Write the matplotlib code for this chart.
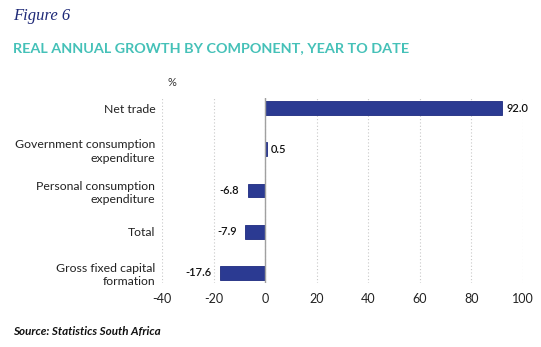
import matplotlib.pyplot as plt

# Data (top to bottom as shown)
categories = ["Net trade", "Government consumption\nexpenditure",
              "Personal consumption\nexpenditure", "Total",
              "Gross fixed capital\nformation"]
growth = [92.0, 0.5, -6.8, -7.9, -17.6]
xticks = [-40, -20, 0, 20, 40, 60, 80, 100]

bar_color = "#2b3a92"
teal = "#45c1b8"
navy = "#1f2a78"
plt.rcParams['font.family'] = ['Lato', 'DejaVu Sans']

fig = plt.figure(figsize=(5.41, 3.47), dpi=100)
ax = fig.add_axes([0.300, 0.1844, 0.666, 0.5332])

ypos = list(range(len(categories)))
ax.barh(ypos, growth, height=0.34, color=bar_color, edgecolor="#1d2a80",
        linewidth=0.6, zorder=3)

for y, v in zip(ypos, growth):
  if v >= 0:
    ax.annotate(f"{v:.1f}", (v, y), xytext=(3, 0), textcoords="offset points",
                ha="left", va="center", fontsize=8, fontweight="semibold",
                color="#111111")
  else:
    ax.annotate(f"{v:.1f}", (v, y), xytext=(-6, 0), textcoords="offset points",
                ha="right", va="center", fontsize=8, fontweight="semibold",
                color="#111111")

ax.set_xlim(-40, 100)
ax.set_ylim(4.25, -0.25)
ax.set_xticks(xticks)
ax.set_xticklabels([str(t) for t in xticks], fontsize=9, color="#222222")
ax.set_yticks(ypos)
ax.set_yticklabels(categories, fontsize=8.8, color="#222222", linespacing=1.3)
ax.tick_params(length=0, pad=5)
ax.tick_params(axis="x", pad=7)

for s in ax.spines.values():
  s.set_visible(False)
ax.grid(axis="x", linestyle=(0, (1, 2)), color="#c8c8c8", linewidth=0.8, zorder=0)
ax.axvline(0, color="#a0a0a0", linewidth=1.0, zorder=4)

fig.text(0.024, 0.953, "Figure 6", fontsize=12, style="italic", color=navy,
         family=["Liberation Serif"], va="center", ha="left")
fig.text(0.024, 0.862, "REAL ANNUAL GROWTH BY COMPONENT, YEAR TO DATE",
         fontsize=10.4, fontweight="bold", color=teal, va="center", ha="left")
fig.text(0.309, 0.763, "%", fontsize=8, color="#333333", va="center", ha="left")
fig.text(0.024, 0.046, "Source: Statistics South Africa", fontsize=8.4,
         fontweight="bold", style="italic", color="#111111", va="center", ha="left")

fig.savefig("out.png", dpi=100)
